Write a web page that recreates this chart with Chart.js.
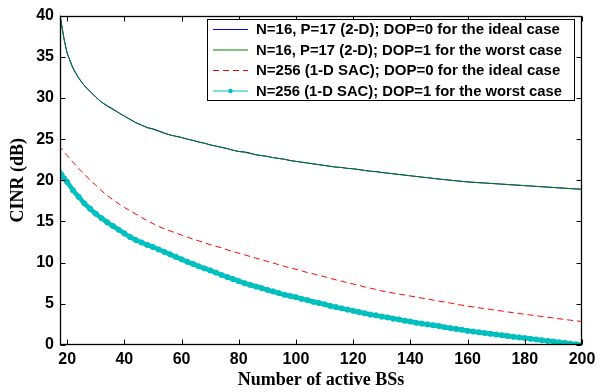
<!DOCTYPE html>
<html>
<head>
<meta charset="utf-8">
<script src="https://cdn.jsdelivr.net/npm/chart.js@4.4.0/dist/chart.umd.min.js"></script>
<style>
  html, body { margin: 0; padding: 0; background: #fff; }
  #wrap { width: 601px; height: 392px; position: relative; }
</style>
</head>
<body>
<div id="wrap"><canvas id="c"></canvas></div>
<script>
// number of active BSs (x)
const nBS = [17,18,19,20,22,24,26,28,30,32,34,36,38,40,42,44,46,48,50,52,54,56,58,60,62,64,66,68,70,72,
  74,76,78,80,82,84,86,88,90,92,94,96,98,100,102,104,106,108,110,112,114,116,118,120,122,124,126,128,130,132,
  134,136,138,140,142,144,146,148,150,152,154,156,158,160,162,164,166,168,170,172,174,176,178,180,182,184,186,188,190,192,
  194,196,198,200];

// N=16, P=17 (2-D), DOP=0
const cinr2dIdeal = [41.2,39.0,37.0,35.45,33.66,32.45,31.5,30.8,30.1,29.5,
  29.06,28.66,28.2,27.8,27.4,27.0,26.7,26.4,26.25,26.0,
  25.75,25.5,25.35,25.2,25.0,24.85,24.65,24.5,24.3,24.15,
  24.0,23.85,23.65,23.5,23.45,23.3,23.1,23.0,22.9,22.75,
  22.65,22.55,22.4,22.3,22.2,22.1,22.0,21.9,21.8,21.7,
  21.6,21.55,21.45,21.4,21.3,21.2,21.1,21.05,20.95,20.87,
  20.79,20.71,20.63,20.55,20.47,20.39,20.31,20.23,20.15,20.08,
  20.01,19.94,19.87,19.8,19.76,19.71,19.67,19.62,19.58,19.53,
  19.49,19.44,19.4,19.35,19.31,19.26,19.22,19.17,19.13,19.08,
  19.04,18.99,18.95,18.9];

// N=16, P=17 (2-D), DOP=1
const cinr2dWorst = [41.2,39.0,37.0,35.4,33.6,32.4,31.5,30.8,30.1,29.5,
  29.0,28.6,28.2,27.8,27.4,27.0,26.7,26.4,26.2,25.95,
  25.7,25.5,25.35,25.2,25.0,24.85,24.65,24.5,24.3,24.15,
  24.0,23.85,23.65,23.5,23.4,23.25,23.1,23.0,22.9,22.75,
  22.65,22.55,22.4,22.3,22.2,22.1,22.0,21.9,21.8,21.7,
  21.6,21.55,21.45,21.4,21.3,21.2,21.1,21.05,20.95,20.87,
  20.79,20.71,20.63,20.55,20.47,20.39,20.31,20.23,20.15,20.08,
  20.01,19.94,19.87,19.8,19.76,19.71,19.67,19.62,19.58,19.53,
  19.49,19.44,19.4,19.35,19.31,19.26,19.22,19.17,19.13,19.08,
  19.04,18.99,18.95,18.9];

// N=256 (1-D SAC), DOP=0
const cinrSacIdeal = [24.2,23.85,23.4,23.0,22.2,21.45,20.75,20.05,19.4,18.75,
  18.15,17.65,17.15,16.7,16.3,15.9,15.5,15.1,14.75,14.4,
  14.1,13.85,13.6,13.35,13.1,12.85,12.65,12.4,12.2,12.0,
  11.8,11.55,11.35,11.15,10.95,10.75,10.55,10.35,10.15,9.95,
  9.75,9.55,9.35,9.2,9.0,8.8,8.65,8.45,8.3,8.1,
  7.9,7.75,7.55,7.4,7.25,7.05,6.9,6.75,6.56,6.43,
  6.31,6.19,6.07,5.94,5.82,5.7,5.58,5.45,5.33,5.21,
  5.09,4.96,4.84,4.72,4.62,4.52,4.42,4.32,4.22,4.12,
  4.02,3.92,3.82,3.73,3.64,3.55,3.46,3.37,3.28,3.19,
  3.1,3.01,2.93,2.85];

// N=256 (1-D SAC), DOP=1
const cinrSacWorst = [21.2,20.7,20.2,19.8,18.8,18.0,17.2,16.55,15.95,15.4,
  14.9,14.45,14.0,13.55,13.1,12.75,12.45,12.15,11.9,11.6,
  11.3,11.0,10.7,10.4,10.1,9.85,9.55,9.3,9.05,8.8,
  8.5,8.25,8.0,7.75,7.5,7.3,7.1,6.9,6.7,6.5,
  6.3,6.1,5.95,5.8,5.6,5.45,5.25,5.1,4.95,4.75,
  4.6,4.45,4.3,4.15,4.0,3.85,3.7,3.6,3.45,3.35,
  3.2,3.1,2.95,2.85,2.7,2.6,2.5,2.4,2.3,2.15,
  2.05,1.95,1.85,1.72,1.63,1.54,1.45,1.36,1.27,1.18,
  1.09,1.0,0.92,0.84,0.75,0.67,0.58,0.5,0.42,0.33,
  0.25,0.16,0.08,0.0];

const xTicks = [20,40,60,80,100,120,140,160,180,200];
const yTicks = [0,5,10,15,20,25,30,35,40];

const seriesLabels = [
  'N=16, P=17 (2-D); DOP=0 for the ideal case',
  'N=16, P=17 (2-D); DOP=1 for the worst case',
  'N=256 (1-D SAC); DOP=0 for the ideal case',
  'N=256 (1-D SAC); DOP=1 for the worst case'
];

function pts(vals) {
  return vals.map((v, i) => ({ x: nBS[i], y: v }));
}

const sansBold = { family: '"Liberation Sans", Arial, sans-serif', size: 16, weight: 'bold' };
const serifBold = { family: '"Liberation Serif", "Times New Roman", serif', size: 18, weight: 'bold' };

/* MATLAB style box with inward ticks on all four sides */
const boxTicks = {
  id: 'boxTicks',
  afterDatasetsDraw(chart) {
    const { ctx, chartArea: a, scales: { x, y } } = chart;
    const L = Math.round(a.left) + 0.5, R = Math.round(a.right) - 0.5;
    const T = Math.round(a.top) + 0.5, B = Math.round(a.bottom) - 0.5;
    ctx.save();
    ctx.strokeStyle = '#000';
    ctx.lineWidth = 1;
    ctx.beginPath();
    xTicks.forEach(v => {
      const px = Math.round(x.getPixelForValue(v)) + 0.5;
      ctx.moveTo(px, B); ctx.lineTo(px, B - 5);
      ctx.moveTo(px, T); ctx.lineTo(px, T + 5);
    });
    yTicks.forEach(v => {
      const py = Math.round(y.getPixelForValue(v)) + 0.5;
      ctx.moveTo(L, py); ctx.lineTo(L + 5, py);
      ctx.moveTo(R, py); ctx.lineTo(R - 5, py);
    });
    ctx.stroke();
    ctx.lineWidth = 1.3;
    ctx.strokeRect(L, T, R - L, B - T);
    ctx.restore();
  }
};

/* legend box in the upper right */
const boxLegend = {
  id: 'boxLegend',
  afterDraw(chart) {
    const ctx = chart.ctx;
    const bx = 207.5, by = 19.5, bw = 367, bh = 81;
    ctx.save();
    ctx.fillStyle = '#fff';
    ctx.fillRect(bx, by, bw, bh);
    ctx.strokeStyle = '#000';
    ctx.lineWidth = 1;
    ctx.strokeRect(bx, by, bw, bh);
    chart.data.datasets.forEach((ds, i) => {
      const ry = 29.5 + i * 20.5;
      ctx.strokeStyle = ds.borderColor;
      ctx.lineWidth = 1;
      ctx.setLineDash(ds.borderDash || []);
      ctx.beginPath();
      ctx.moveTo(213, ry); ctx.lineTo(248, ry);
      ctx.stroke();
      ctx.setLineDash([]);
      if (ds.pointRadius > 0) {
        ctx.fillStyle = ds.borderColor;
        ctx.beginPath();
        ctx.arc(230.5, ry, 2.2, 0, Math.PI * 2);
        ctx.fill();
      }
      ctx.fillStyle = '#000';
      ctx.font = 'bold 15px "Liberation Sans", Arial, sans-serif';
      ctx.textBaseline = 'middle';
      ctx.fillText(ds.label, 256, ry + 0.5, 306);
    });
    ctx.restore();
  }
};

new Chart(document.getElementById('c'), {
  type: 'line',
  data: {
    datasets: [
      { label: seriesLabels[0], data: pts(cinr2dIdeal), borderColor: 'rgb(0,0,255)', borderWidth: 1, pointRadius: 0, order: 4 },
      { label: seriesLabels[1], data: pts(cinr2dWorst), borderColor: 'rgb(0,128,0)', borderWidth: 1, pointRadius: 0, order: 3 },
      { label: seriesLabels[2], data: pts(cinrSacIdeal), borderColor: 'rgb(255,0,0)', borderWidth: 1, borderDash: [6, 4], pointRadius: 0, order: 2 },
      { label: seriesLabels[3], data: pts(cinrSacWorst), borderColor: 'rgb(0,191,191)', borderWidth: 4.5,
        pointRadius: 2.6, pointBorderWidth: 1, pointBackgroundColor: 'rgb(0,191,191)', pointBorderColor: 'rgb(0,191,191)', order: 1 }
    ]
  },
  options: {
    responsive: true,
    maintainAspectRatio: false,
    animation: false,
    events: [],
    layout: { padding: { left: 0, right: 19, top: 12, bottom: 0 } },
    elements: { line: { tension: 0 } },
    plugins: { legend: { display: false }, tooltip: { enabled: false } },
    scales: {
      x: {
        type: 'linear',
        min: 17.5,
        max: 200,
        afterBuildTicks: s => { s.ticks = xTicks.map(v => ({ value: v })); },
        afterFit: s => { s.height = 47; },
        grid: { display: false, drawTicks: false },
        border: { display: false },
        ticks: { color: '#000', font: sansBold, padding: 5, maxRotation: 0, autoSkip: false },
        title: { display: true, text: 'Number of active BSs', color: '#000', font: serifBold, padding: { top: 0, bottom: 1 } }
      },
      y: {
        min: 0,
        max: 40,
        afterBuildTicks: s => { s.ticks = yTicks.map(v => ({ value: v })); },
        afterFit: s => { s.width = 60; },
        grid: { display: false, drawTicks: false },
        border: { display: false },
        ticks: { color: '#000', font: sansBold, padding: 6, autoSkip: false },
        title: { display: true, text: 'CINR (dB)', color: '#000', font: serifBold, padding: { top: 8, bottom: 0 } }
      }
    }
  },
  plugins: [boxTicks, boxLegend]
});
</script>
</body>
</html>
